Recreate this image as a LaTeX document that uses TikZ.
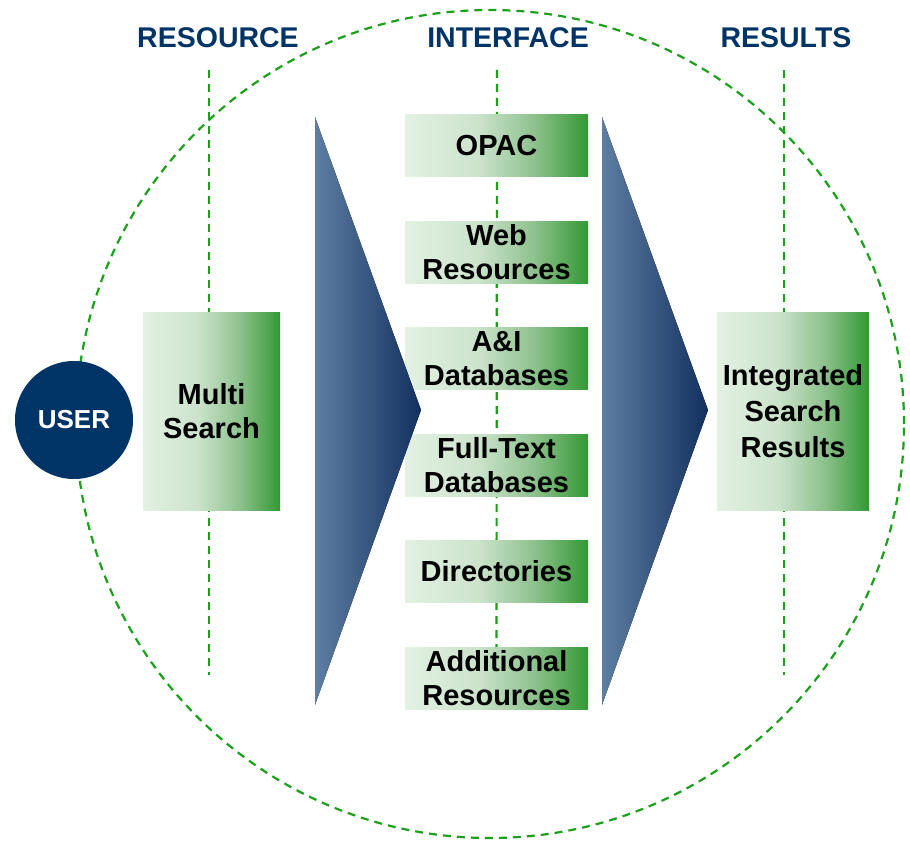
\documentclass[tikz,border=0pt]{standalone}
\usepackage{fontspec}
\setmainfont{Liberation Sans}
\usepackage{tikz}
\usetikzlibrary{positioning,backgrounds}

\definecolor{navy}{HTML}{003366}
\definecolor{ringgreen}{HTML}{1AA01A}
\definecolor{boxlight}{HTML}{E3F1E3}
\definecolor{boxmid}{HTML}{CCE3CC}
\definecolor{boxmidb}{HTML}{8FC28F}
\definecolor{boxdark}{HTML}{339933}
\definecolor{arrowlight}{HTML}{5E7EA2}
\definecolor{arrowdark}{HTML}{12305F}

\pgfdeclarehorizontalshading{boxgreen}{100bp}{color(0bp)=(boxlight); color(25bp)=(boxlight); color(45bp)=(boxmid); color(60bp)=(boxmidb); color(75bp)=(boxdark); color(100bp)=(boxdark)}

\tikzset{
  gbox/.style={rectangle, shading=boxgreen, inner sep=0pt, align=center,
    font=\fontsize{29}{34}\selectfont\bfseries},
  ibox/.style={gbox, minimum width=183pt, minimum height=62pt},
  head/.style={font=\fontsize{28.5}{34}\selectfont\bfseries, text=navy},
  guide/.style={ringgreen, line width=2.2pt, dash pattern=on 8pt off 6pt},
  chevron/.style={left color=arrowlight, right color=arrowdark, draw=none}
}

\begin{document}
\begin{tikzpicture}[x=1pt, y=-1pt]
  \useasboundingbox (0,0) rectangle (910,842);
  % Define nodes
  \node[head] (reshead) at (218,38) {RESOURCE};
  \node[head] (inthead) at (508,38) {INTERFACE};
  \node[head] (rslhead) at (786,38) {RESULTS};
  \node[circle, fill=navy, text=white, minimum size=118pt, inner sep=0pt,
    font=\fontsize{26}{30}\selectfont\bfseries] (user) at (74,420) {USER};
  \node[gbox, minimum width=137pt, minimum height=198pt] (multi) at (211.5,411) {Multi\\Search};
  \node[gbox, minimum width=152pt, minimum height=198pt] (integ) at (793,411) {Integrated\\[2pt]Search\\[2pt]Results};
  \node[ibox]                  (opac) at (496.5,146) {OPAC};
  \node[ibox, below=44pt of opac] (web)  {Web\\Resources};
  \node[ibox, below=44pt of web]  (ai)   {A\&I\\Databases};
  \node[ibox, below=44pt of ai]   (full) {Full-Text\\Databases};
  \node[ibox, below=44pt of full] (dirs) {Directories};
  \node[ibox, below=44pt of dirs] (addl) {Additional\\Resources};
  \coordinate (restop) at (209,70);
  \coordinate (resbot) at (209,675);
  \coordinate (inttop) at (497,70);
  \coordinate (rsltop) at (784,70);
  \coordinate (rslbot) at (784,675);
  % Arrows
  \fill[chevron] (315,117) -- (421,410) -- (315,705) -- cycle;
  \fill[chevron] (602,117) -- (708,410) -- (602,705) -- cycle;
  % Guides behind
  \begin{pgfonlayer}{background}
    \draw[guide] (490,424) circle (414pt);
    \draw[guide] (restop) -- (resbot);
    \draw[guide] (inttop) -- (addl.north);
    \draw[guide] (rsltop) -- (rslbot);
  \end{pgfonlayer}
\end{tikzpicture}
\end{document}
